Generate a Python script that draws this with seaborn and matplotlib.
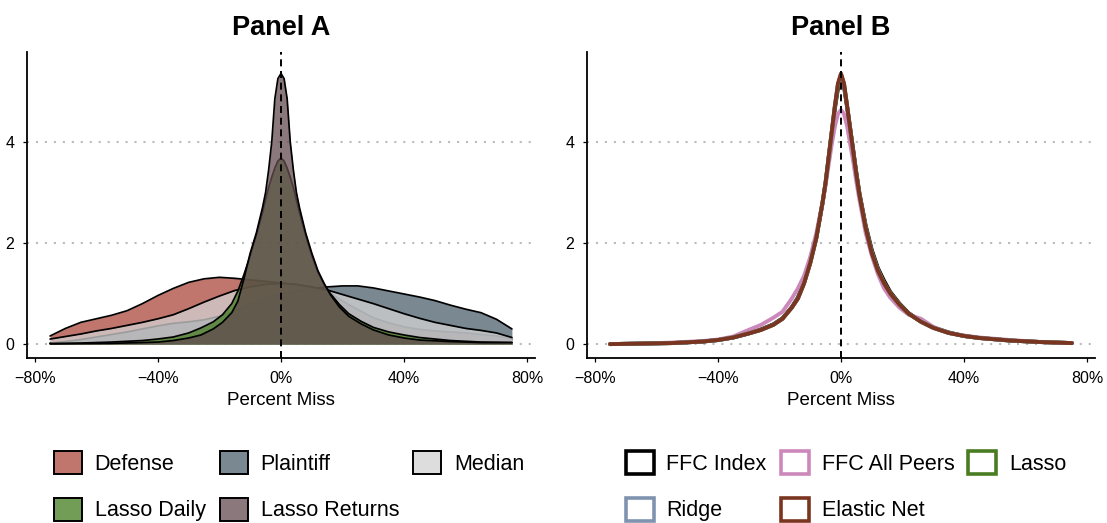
import numpy as np
import pandas as pd
import matplotlib
matplotlib.use("Agg")
import matplotlib.pyplot as plt
from matplotlib.patches import Patch
import seaborn as sns

# ---------------- data ----------------
x_broad = [-75, -70, -65, -60, -55, -50, -45, -40, -35, -30, -25, -20, -15, -10, -5, 0,
           5, 10, 15, 20, 25, 30, 35, 40, 45, 50, 55, 60, 65, 70, 75]

defense = [0.16, 0.31, 0.43, 0.50, 0.57, 0.66, 0.80, 0.96, 1.10, 1.22, 1.29, 1.32, 1.30, 1.27, 1.24, 1.21,
           1.17, 1.12, 1.05, 0.85, 0.68, 0.52, 0.42, 0.34, 0.29, 0.26, 0.24, 0.22, 0.19, 0.16, 0.10]
plaintiff = [0.02, 0.05, 0.09, 0.14, 0.19, 0.24, 0.30, 0.36, 0.41, 0.44, 0.48, 0.55, 0.65, 0.78, 0.90, 0.99,
             1.05, 1.10, 1.13, 1.15, 1.15, 1.11, 1.05, 0.99, 0.93, 0.86, 0.77, 0.69, 0.62, 0.49, 0.30]
median = [0.10, 0.15, 0.20, 0.26, 0.31, 0.37, 0.43, 0.50, 0.58, 0.70, 0.83, 0.95, 1.06, 1.13, 1.18, 1.20,
          1.18, 1.13, 1.07, 0.98, 0.89, 0.80, 0.70, 0.60, 0.51, 0.43, 0.37, 0.31, 0.27, 0.22, 0.13]

x_fine = [-75, -65, -55, -45, -40, -35, -30, -26, -22, -19, -16, -14, -12, -10, -8, -6, -5, -4, -3, -2, -1, 0,
          1, 2, 3, 4, 5, 6, 8, 10, 12, 14, 16, 19, 22, 26, 30, 35, 40, 45, 55, 65, 75]

lasso_daily = [0.01, 0.02, 0.04, 0.07, 0.10, 0.14, 0.22, 0.32, 0.44, 0.58, 0.80, 1.05, 1.38, 1.75, 2.15, 2.60,
               2.85, 3.10, 3.30, 3.48, 3.62, 3.68,
               3.62, 3.48, 3.30, 3.10, 2.85, 2.60, 2.15, 1.75, 1.42, 1.18, 1.00, 0.78, 0.60, 0.45, 0.33,
               0.24, 0.18, 0.13, 0.07, 0.04, 0.03]
lasso_returns = [0.005, 0.01, 0.015, 0.03, 0.04, 0.07, 0.12, 0.18, 0.30, 0.43, 0.62, 0.85, 1.30, 1.80, 2.20, 2.70,
                 3.00, 3.45, 4.00, 4.85, 5.25, 5.35,
                 5.25, 4.85, 4.00, 3.45, 3.00, 2.70, 2.20, 1.80, 1.45, 1.20, 0.98, 0.73, 0.55, 0.40, 0.28,
                 0.18, 0.12, 0.08, 0.05, 0.03, 0.03]

ffc_index = [0.0, 0.01, 0.02, 0.05, 0.08, 0.13, 0.21, 0.29, 0.39, 0.51, 0.73, 0.92, 1.22, 1.62, 2.12, 2.78,
             3.18, 3.68, 4.18, 4.65, 5.05, 5.28,
             5.08, 4.68, 4.25, 3.82, 3.38, 2.98, 2.35, 1.86, 1.50, 1.25, 1.03, 0.80, 0.61, 0.45, 0.33,
             0.23, 0.16, 0.12, 0.07, 0.04, 0.02]
ffc_all_peers = [0.0, 0.01, 0.03, 0.06, 0.09, 0.15, 0.28, 0.38, 0.52, 0.64, 0.90, 1.10, 1.35, 1.72, 2.20, 2.80,
                 3.15, 3.55, 3.95, 4.30, 4.55, 4.63,
                 4.55, 4.30, 3.95, 3.60, 3.20, 2.85, 2.20, 1.75, 1.38, 1.10, 0.92, 0.72, 0.58, 0.50, 0.34,
                 0.22, 0.17, 0.13, 0.08, 0.04, 0.02]
lasso = [0.0, 0.01, 0.02, 0.05, 0.08, 0.13, 0.21, 0.28, 0.38, 0.50, 0.72, 0.90, 1.20, 1.60, 2.10, 2.80,
         3.20, 3.70, 4.20, 4.70, 5.12, 5.33,
         5.12, 4.70, 4.25, 3.80, 3.36, 2.96, 2.32, 1.82, 1.47, 1.21, 1.01, 0.79, 0.60, 0.44, 0.32,
         0.22, 0.16, 0.12, 0.07, 0.04, 0.02]
ridge = [0.0, 0.01, 0.02, 0.05, 0.08, 0.13, 0.21, 0.28, 0.38, 0.50, 0.72, 0.90, 1.20, 1.60, 2.10, 2.80,
         3.20, 3.70, 4.20, 4.70, 5.13, 5.34,
         5.13, 4.70, 4.25, 3.80, 3.35, 2.95, 2.31, 1.81, 1.46, 1.20, 1.00, 0.78, 0.60, 0.44, 0.32,
         0.22, 0.16, 0.12, 0.07, 0.04, 0.02]
elastic_net = [0.0, 0.01, 0.02, 0.05, 0.08, 0.13, 0.21, 0.28, 0.38, 0.50, 0.72, 0.90, 1.20, 1.60, 2.10, 2.80,
               3.20, 3.70, 4.20, 4.70, 5.15, 5.35,
               5.15, 4.70, 4.25, 3.80, 3.35, 2.95, 2.30, 1.80, 1.45, 1.20, 1.00, 0.78, 0.60, 0.44, 0.32,
               0.22, 0.16, 0.12, 0.07, 0.04, 0.02]

panel_a_names = ["Defense", "Plaintiff", "Median", "Lasso Daily", "Lasso Returns"]
# colour of each fill as seen over white (legend key colour)
panel_a_colors = ["#C0766C", "#7A8892", "#DDDDDD", "#729D57", "#8B787C"]
panel_b_names = ["FFC Index", "FFC All Peers", "Lasso", "Ridge", "Elastic Net"]
panel_b_colors = ["#000000", "#CC88BB", "#4A7D22", "#7F93B0", "#7A3520"]

x_ticks = [-80, -40, 0, 40, 80]
x_tick_labels = ["\u221280%", "\u221240%", "0%", "40%", "80%"]
y_ticks = [0, 2, 4]
y_tick_labels = ["0", "2", "4"]

# ---------------- build tables ----------------
df_a = pd.concat([
    pd.DataFrame({"x": x_broad, "y": defense, "series": "Defense"}),
    pd.DataFrame({"x": x_broad, "y": plaintiff, "series": "Plaintiff"}),
    pd.DataFrame({"x": x_broad, "y": median, "series": "Median"}),
    pd.DataFrame({"x": x_fine, "y": lasso_daily, "series": "Lasso Daily"}),
    pd.DataFrame({"x": x_fine, "y": lasso_returns, "series": "Lasso Returns"}),
], ignore_index=True)
df_b = pd.concat([
    pd.DataFrame({"x": x_fine, "y": ffc_index, "series": "FFC Index"}),
    pd.DataFrame({"x": x_fine, "y": ffc_all_peers, "series": "FFC All Peers"}),
    pd.DataFrame({"x": x_fine, "y": lasso, "series": "Lasso"}),
    pd.DataFrame({"x": x_fine, "y": ridge, "series": "Ridge"}),
    pd.DataFrame({"x": x_fine, "y": elastic_net, "series": "Elastic Net"}),
], ignore_index=True)

# ---------------- style ----------------
sns.set_theme(style="ticks")
plt.rcParams["font.family"] = ["Liberation Sans", "DejaVu Sans"]
plt.rcParams["axes.unicode_minus"] = True
for key in ["text.color", "axes.labelcolor", "xtick.color", "ytick.color", "axes.edgecolor"]:
    plt.rcParams[key] = "black"

W, H = 1107, 523
fig = plt.figure(figsize=(W / 100, H / 100), dpi=100)
ax_a = fig.add_axes([27 / W, 1 - 358 / H, 508 / W, 306 / H])
ax_b = fig.add_axes([587 / W, 1 - 358 / H, 508 / W, 306 / H])

ALPHA = 0.75


def base_colour(hex_over_white, a):
    rgb = np.array(matplotlib.colors.to_rgb(hex_over_white))
    return tuple(np.clip((rgb - (1 - a)) / a, 0, 1))


# Panel A: filled densities, drawn in order
for k, (name, col) in enumerate(zip(panel_a_names, panel_a_colors)):
    sub = df_a[df_a["series"] == name]
    ax_a.fill_between(sub["x"], 0, sub["y"], color=base_colour(col, ALPHA), alpha=ALPHA,
                      lw=0, zorder=3 + 2 * k)
    sns.lineplot(data=sub, x="x", y="y", ax=ax_a, color="black", lw=1.25,
                 zorder=4 + 2 * k, legend=False)

# Panel B: lines
sns.lineplot(data=df_b, x="x", y="y", hue="series", hue_order=panel_b_names,
             palette=dict(zip(panel_b_names, panel_b_colors)), ax=ax_b, lw=2.8,
             legend=False, zorder=4)

for ax, title in [(ax_a, "Panel A"), (ax_b, "Panel B")]:
    ax.set_xlim(-82.5, 82.5)
    ax.set_ylim(-0.275, 5.775)
    ax.set_xticks(x_ticks)
    ax.set_xticklabels(x_tick_labels)
    ax.set_yticks(y_ticks)
    ax.set_yticklabels(y_tick_labels)
    ax.set_xlabel("Percent Miss", fontsize=13.5, labelpad=4.5, color="black")
    ax.set_ylabel("")
    ax.set_title(title, fontsize=19.5, fontweight="bold", pad=12.5, color="black")
    ax.tick_params(axis="both", labelsize=11.5, length=3.2, width=0.9, pad=6, colors="black")
    for y in y_ticks:
        ax.axhline(y, color="#BBBBBB", lw=1.5, ls=(0, (1, 3.3)), zorder=1)
    ax.axvline(0, color="black", lw=1.4, ls=(0, (3.6, 2.4)), zorder=20)
    sns.despine(ax=ax)
    for s in ["left", "bottom"]:
        ax.spines[s].set_linewidth(1.3)
        ax.spines[s].set_color("black")

# legends (row-wise order as in the reference)
order = [0, 3, 1, 4, 2]
handles_a = [Patch(facecolor=panel_a_colors[i], edgecolor="black", lw=1.4) for i in order]
labels_a = [panel_a_names[i] for i in order]
handles_b = [Patch(facecolor="white", edgecolor=panel_b_colors[i], lw=2.6) for i in order]
labels_b = [panel_b_names[i] for i in order]

common = dict(ncol=3, frameon=False, fontsize=15.5, handlelength=1.3, handleheight=1.3,
              handletextpad=0.6, columnspacing=0.65, labelspacing=1.05, borderpad=0, borderaxespad=0)
fig.legend(handles_a, labels_a, loc="upper center", bbox_to_anchor=(289 / W, 1 - 451 / H), **common)
fig.legend(handles_b, labels_b, loc="upper center", bbox_to_anchor=(846 / W, 1 - 451 / H), **common)

fig.savefig("out.png", dpi=100)
